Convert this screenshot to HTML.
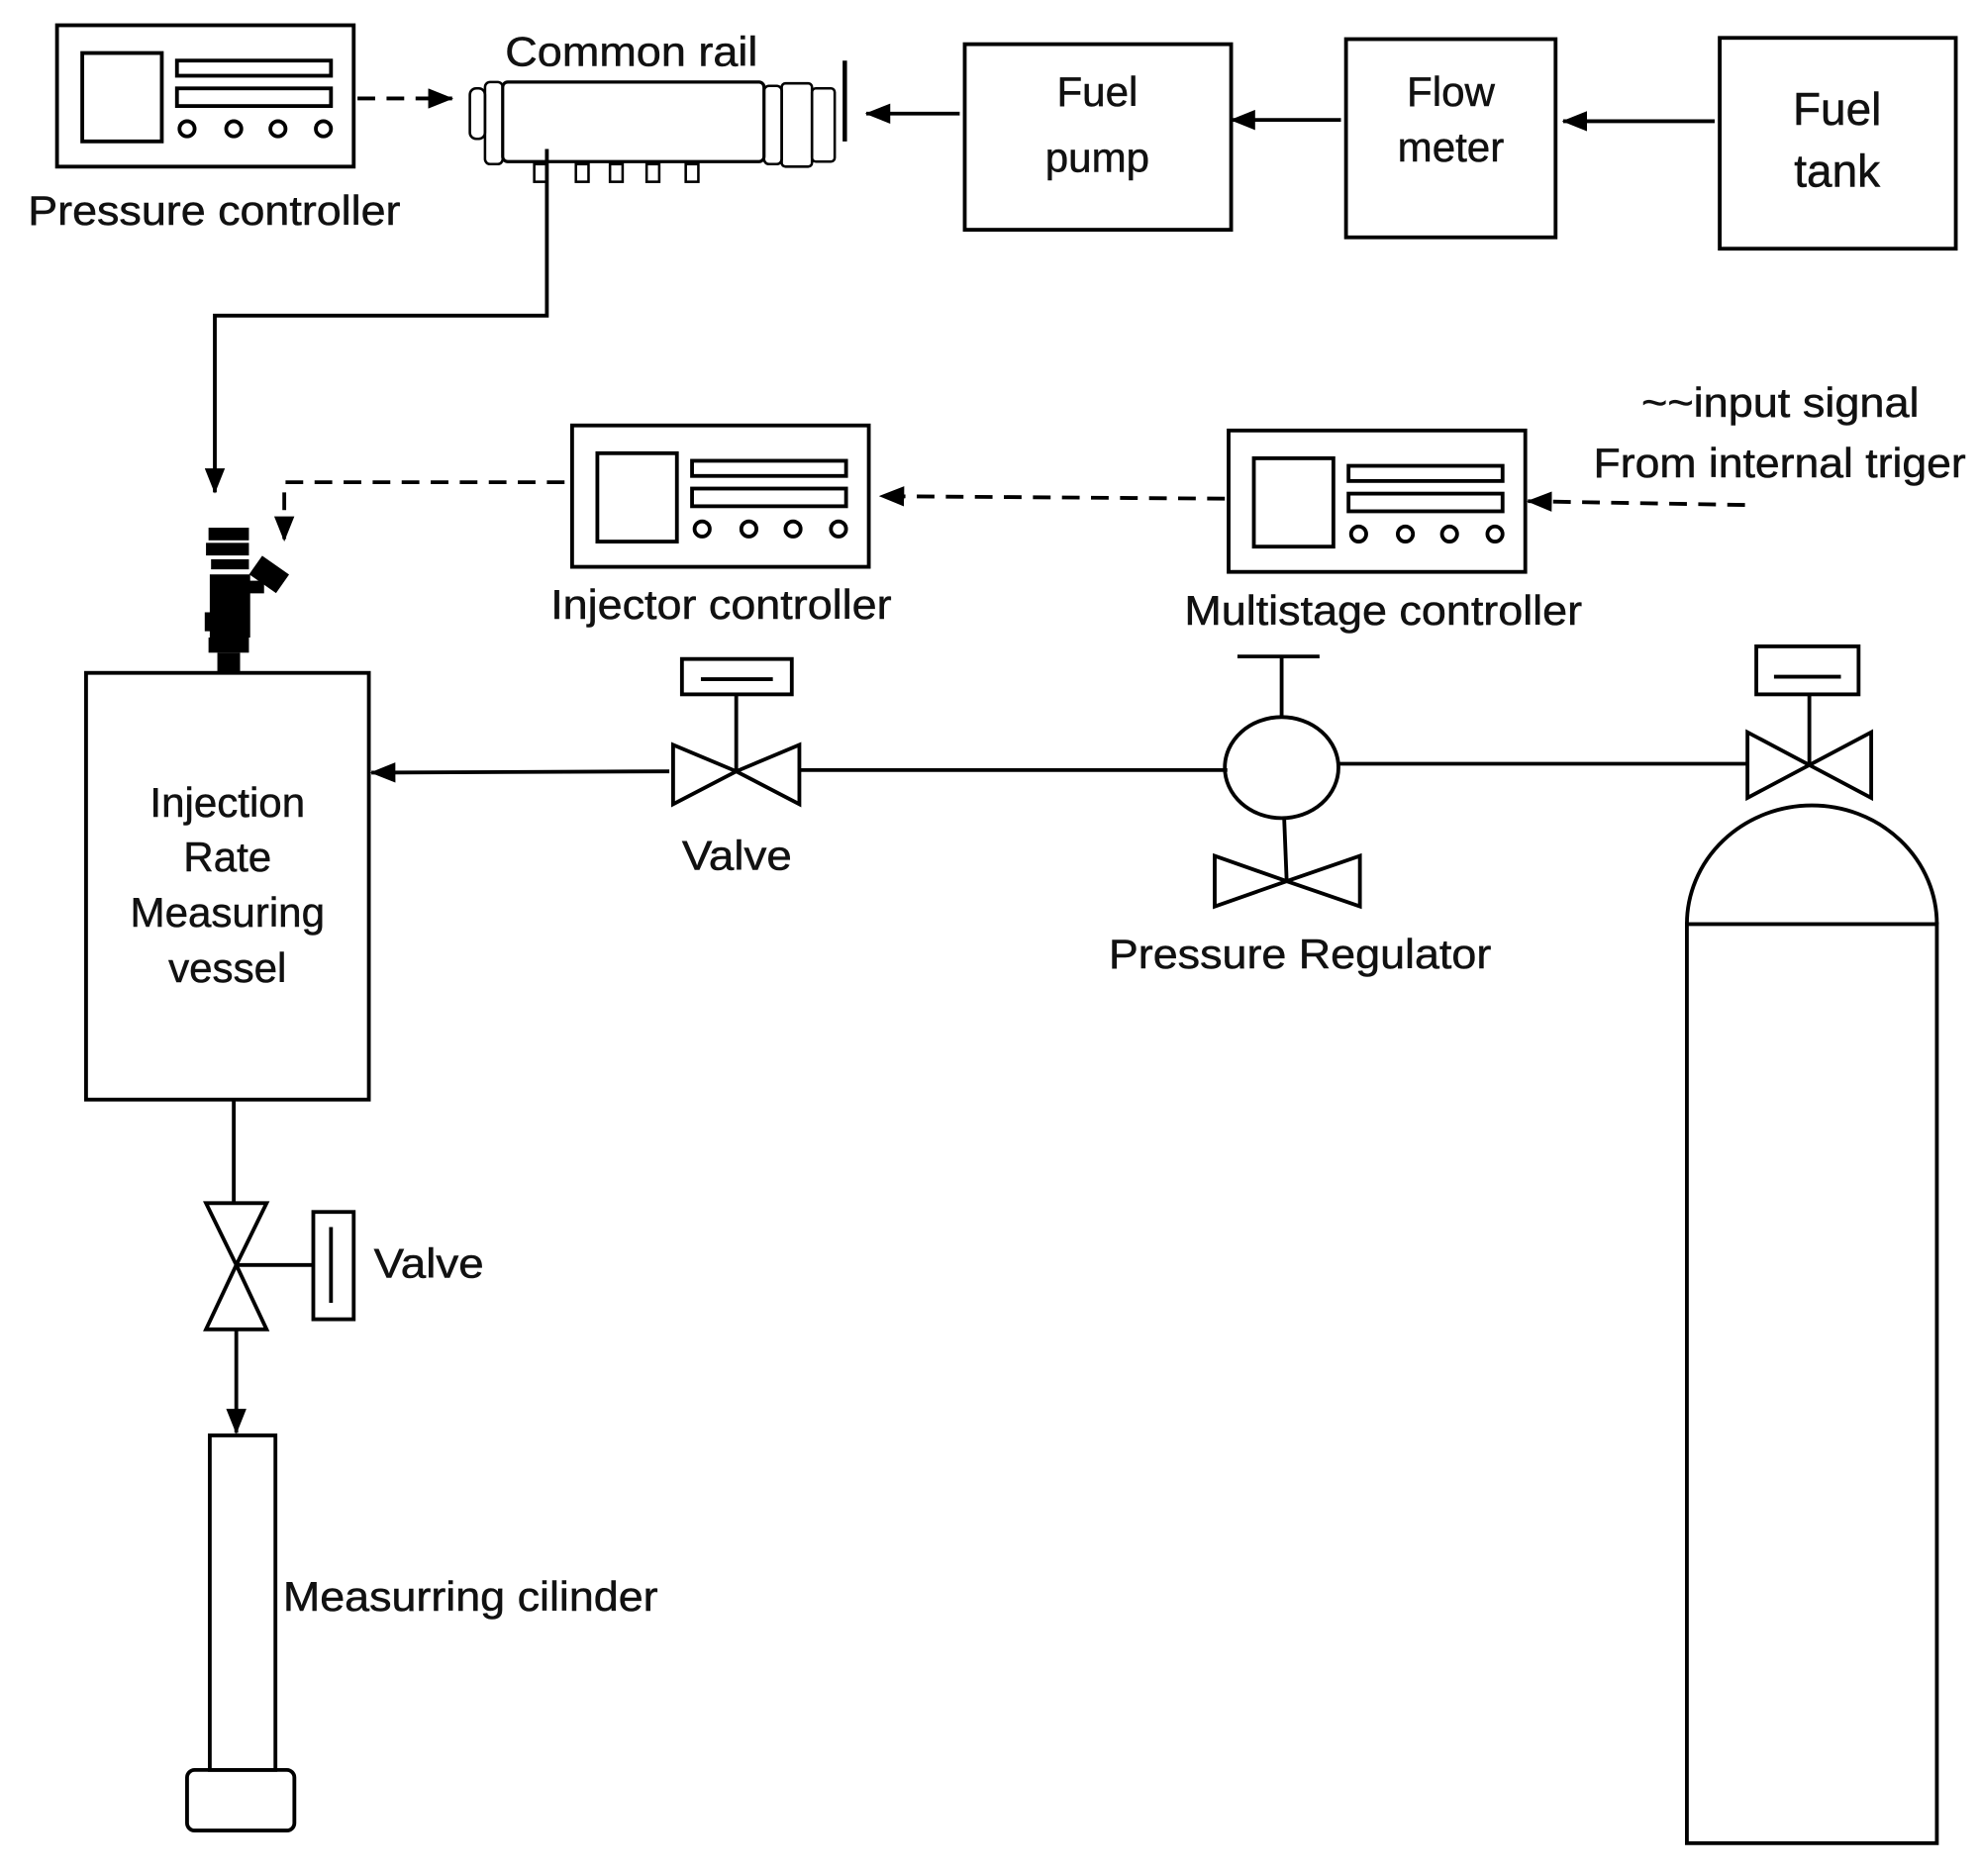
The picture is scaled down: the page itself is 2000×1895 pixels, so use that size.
<!DOCTYPE html>
<html><head><style>body{margin:0;background:#fff}svg{display:block}text{font-family:"Liberation Sans",sans-serif;fill:#111;stroke:#111;stroke-width:0.4}</style></head><body>
<svg width="2000" height="1895" viewBox="0 0 1568 1486" xmlns="http://www.w3.org/2000/svg">
<defs>
<marker id="b" markerWidth="20" markerHeight="16" refX="19" refY="8" orient="auto" markerUnits="userSpaceOnUse"><path d="M0,0 L20,8 L0,16z" fill="#000"/></marker>
<g id="ctl" fill="none" stroke="#000" stroke-width="3">
<rect x="0" y="0" width="235" height="112"/>
<rect x="20" y="22" width="63" height="70"/>
<rect x="95" y="28" width="122" height="12"/>
<rect x="95" y="50" width="122" height="14"/>
<circle cx="103" cy="82" r="6"/><circle cx="140" cy="82" r="6"/><circle cx="175" cy="82" r="6"/><circle cx="211" cy="82" r="6"/>
</g>
</defs>
<g stroke="#000" stroke-width="3" fill="none">
<use href="#ctl" x="45" y="20"/>
<use href="#ctl" x="453" y="337"/>
<use href="#ctl" x="973" y="341"/>
<line x1="283" y1="78" x2="358" y2="78" stroke-dasharray="14,9" marker-end="url(#b)"/>
<rect x="398" y="65" width="207" height="63" rx="4" stroke-width="2.5"/>
<rect x="372" y="70" width="12" height="40" rx="5" stroke-width="2"/>
<rect x="384" y="65" width="14" height="65" rx="4" stroke-width="2"/>
<rect x="605" y="68" width="14" height="62" rx="4" stroke-width="2"/>
<rect x="619" y="66" width="24" height="66" rx="3" stroke-width="2"/>
<rect x="643" y="70" width="18" height="58" rx="3" stroke-width="2"/>
<line x1="669" y1="48" x2="669" y2="112" stroke-width="3.5"/>
<g stroke-width="2"><rect x="423" y="130" width="10" height="14"/><rect x="456" y="130" width="10" height="14"/><rect x="483" y="130" width="10" height="14"/><rect x="512" y="130" width="10" height="14"/><rect x="543" y="130" width="10" height="14"/></g>
<polyline points="433,118 433,250 170,250 170,390" marker-end="url(#b)"/>
<rect x="764" y="35" width="211" height="147"/>
<rect x="1066" y="31" width="166" height="157"/>
<rect x="1362" y="30" width="187" height="167"/>
<line x1="760" y1="90" x2="686" y2="90" marker-end="url(#b)"/>
<line x1="1062" y1="95" x2="975" y2="95" marker-end="url(#b)"/>
<line x1="1358" y1="96" x2="1238" y2="96" marker-end="url(#b)"/>
<polyline points="447,382 225,382 225,428" stroke-dasharray="14,9" marker-end="url(#b)"/>
<line x1="970" y1="395" x2="697" y2="393" stroke-dasharray="14,9" marker-end="url(#b)"/>
<line x1="1382" y1="400" x2="1210" y2="397" stroke-dasharray="14,9" marker-end="url(#b)"/>
<rect x="68" y="533" width="224" height="338"/>
<line x1="530" y1="611" x2="294" y2="612" marker-end="url(#b)"/>
<path d="M533,590 L583,611 L533,637z M633,590 L583,611 L633,637z"/>
<line x1="583" y1="550" x2="583" y2="611"/>
<rect x="540" y="522" width="87" height="28"/><line x1="555" y1="538" x2="612" y2="538"/>
<line x1="633" y1="610" x2="972" y2="610"/>
<ellipse cx="1015" cy="608" rx="45" ry="40"/>
<line x1="1015" y1="568" x2="1015" y2="520"/><line x1="980" y1="520" x2="1045" y2="520"/>
<line x1="1017" y1="648" x2="1019" y2="698"/>
<path d="M962,678 L1019,698 L962,718z M1077,678 L1019,698 L1077,718z"/>
<line x1="1060" y1="605" x2="1384" y2="605"/>
<path d="M1384,580 L1433,606 L1384,632z M1482,580 L1433,606 L1482,632z"/>
<line x1="1433" y1="606" x2="1433" y2="550"/>
<rect x="1391" y="512" width="81" height="38"/><line x1="1405" y1="536" x2="1458" y2="536"/>
<path d="M1336,732 A99,94 0 0 1 1534,732"/>
<rect x="1336" y="732" width="198" height="728"/>
<line x1="185" y1="871" x2="185" y2="953"/>
<path d="M163,953 L211,953 L187,1002z M163,1053 L211,1053 L187,1002z"/>
<line x1="187" y1="1002" x2="248" y2="1002"/>
<rect x="248" y="960" width="32" height="85"/><line x1="262" y1="972" x2="262" y2="1032"/>
<line x1="187" y1="1053" x2="187" y2="1135" marker-end="url(#b)"/>
<rect x="166" y="1137" width="52" height="265"/>
<rect x="148" y="1402" width="85" height="48" rx="6"/>
</g>
<g fill="#000">
<rect x="165" y="418" width="32" height="10"/><rect x="163" y="430" width="34" height="10"/>
<rect x="167" y="443" width="30" height="8"/>
<rect x="166" y="455" width="32" height="50"/><rect x="162" y="485" width="10" height="15"/>
<rect x="195" y="460" width="14" height="10"/>
<rect x="200" y="446" width="26" height="18" transform="rotate(35 213 455)"/>
<rect x="165" y="505" width="32" height="12"/><rect x="172" y="517" width="18" height="16"/>
</g>
<g font-size="33">
<text x="400" y="52" textLength="200" lengthAdjust="spacingAndGlyphs">Common rail</text>
<text x="22" y="178" textLength="295" lengthAdjust="spacingAndGlyphs">Pressure controller</text>
<text x="869" y="84" text-anchor="middle">Fuel</text>
<text x="869" y="136" text-anchor="middle">pump</text>
<text x="1149" y="84" text-anchor="middle">Flow</text>
<text x="1149" y="128" text-anchor="middle">meter</text>
<text x="1455" y="99" text-anchor="middle" font-size="36">Fuel</text>
<text x="1455" y="148" text-anchor="middle" font-size="36">tank</text>
<text x="1300" y="330" textLength="220" lengthAdjust="spacingAndGlyphs">~~input signal</text>
<text x="1262" y="378" textLength="295" lengthAdjust="spacingAndGlyphs">From internal triger</text>
<text x="436" y="490" textLength="270" lengthAdjust="spacingAndGlyphs">Injector controller</text>
<text x="938" y="495" textLength="315" lengthAdjust="spacingAndGlyphs">Multistage controller</text>
<text x="180" y="647" text-anchor="middle">Injection</text>
<text x="180" y="690" text-anchor="middle">Rate</text>
<text x="180" y="734" text-anchor="middle">Measuring</text>
<text x="180" y="778" text-anchor="middle">vessel</text>
<text x="540" y="689" textLength="87" lengthAdjust="spacingAndGlyphs">Valve</text>
<text x="878" y="767" textLength="303" lengthAdjust="spacingAndGlyphs">Pressure Regulator</text>
<text x="296" y="1012" textLength="87" lengthAdjust="spacingAndGlyphs">Valve</text>
<text x="224" y="1276" textLength="297" lengthAdjust="spacingAndGlyphs">Measurring cilinder</text>
</g>
</svg>
</body></html>
